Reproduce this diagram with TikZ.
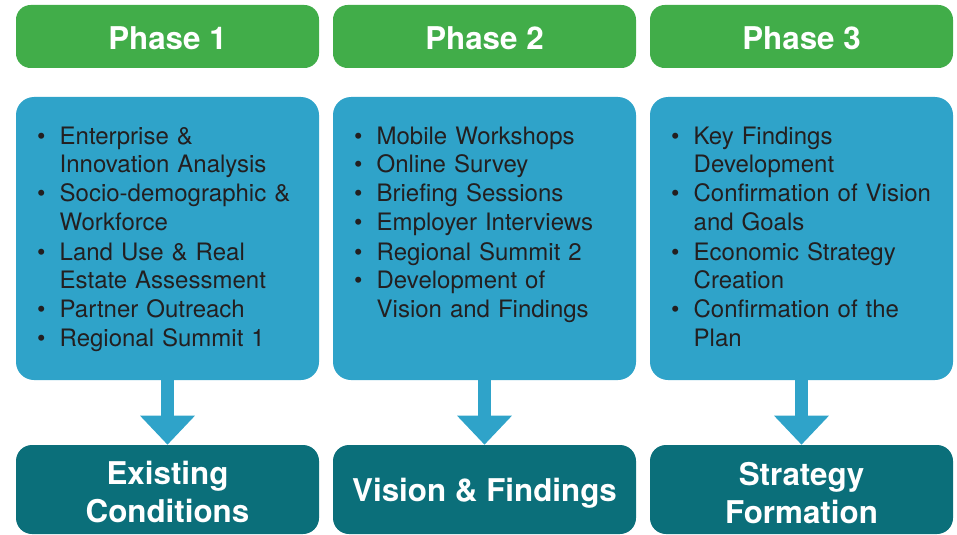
\documentclass[tikz,border=0pt]{standalone}
\usepackage{fontspec}
\setmainfont{TeX Gyre Heros}
\usetikzlibrary{arrows.meta}

% Colores
\definecolor{verdefase}{HTML}{41AD49}
\definecolor{azultarea}{HTML}{2FA3C9}
\definecolor{tealres}{HTML}{0B6F7A}
\definecolor{textooscuro}{HTML}{231F20}

% Punto de lista con sangria francesa
\newcommand{\itm}[1]{\par\hangindent=17pt\hangafter=1\noindent\makebox[17pt][l]{\textbullet}#1\par}

\tikzset{
  fase/.style={fill=verdefase, rounded corners=11pt, minimum width=227.25pt,
    minimum height=47.25pt, inner sep=0pt, text=white,
    execute at begin node={\rule{0pt}{20pt}},
    font=\fontsize{23.5}{28}\selectfont\bfseries},
  tareas/.style={fill=azultarea, rounded corners=13.5pt, minimum width=227.25pt,
    minimum height=212.25pt, inner sep=0pt},
  lista/.style={anchor=north west, text width=210pt, inner sep=0pt,
    text=textooscuro, font=\fontsize{18}{21.75}\selectfont\raggedright},
  resultado/.style={fill=tealres, rounded corners=12pt, minimum width=227.25pt,
    minimum height=66.75pt, inner sep=0pt, text=white, align=center,
    font=\fontsize{23.5}{28.5}\selectfont\bfseries},
  flecha/.style={azultarea, line width=9.75pt, -{Triangle[width=39.75pt, length=21.75pt]}},
}

\begin{document}
\begin{tikzpicture}[x=0.75pt, y=-0.75pt]

  \useasboundingbox (0,0) rectangle (957,535);

  % Fases
  \node[fase] (faseA) at (167.5,36.5) {Phase 1};
  \node[fase] (faseB) at (484.5,36.5) {Phase 2};
  \node[fase] (faseC) at (801.5,36.5) {Phase 3};

  % Cajas de tareas
  \node[tareas] (tareasA) at (167.5,238.5) {};
  \node[tareas] (tareasB) at (484.5,238.5) {};
  \node[tareas] (tareasC) at (801.5,238.5) {};

  % Listas de tareas
  \node[lista] (listaA) at ([shift={(21,18)}]tareasA.north west) {%
    \itm{Enterprise \&\newline Innovation Analysis}
    \itm{Socio-demographic \&\newline Workforce}
    \itm{Land Use \& Real\newline Estate Assessment}
    \itm{Partner Outreach}
    \itm{Regional Summit 1}};
  \node[lista] (listaB) at ([shift={(21,18)}]tareasB.north west) {%
    \itm{Mobile Workshops}
    \itm{Online Survey}
    \itm{Briefing Sessions}
    \itm{Employer Interviews}
    \itm{Regional Summit 2}
    \itm{Development of\newline Vision and Findings}};
  \node[lista] (listaC) at ([shift={(21,18)}]tareasC.north west) {%
    \itm{Key Findings\newline Development}
    \itm{Confirmation of Vision\newline and Goals}
    \itm{Economic Strategy\newline Creation}
    \itm{Confirmation of the\newline Plan}};

  % Resultados
  \node[resultado] (resultA) at (167.5,489.5) {\rule{0pt}{22pt}Existing\\Conditions};
  \node[resultado] (resultB) at (484.5,489.5) {\rule{0pt}{23.5pt}Vision \& Findings};
  \node[resultado] (resultC) at (801.5,489.5) {\rule{0pt}{22pt}Strategy\\Formation};

  % Flechas
  \foreach \n in {A,B,C} {
    \draw[flecha] (tareas\n.south) -- (result\n.north);
  }

\end{tikzpicture}
\end{document}
